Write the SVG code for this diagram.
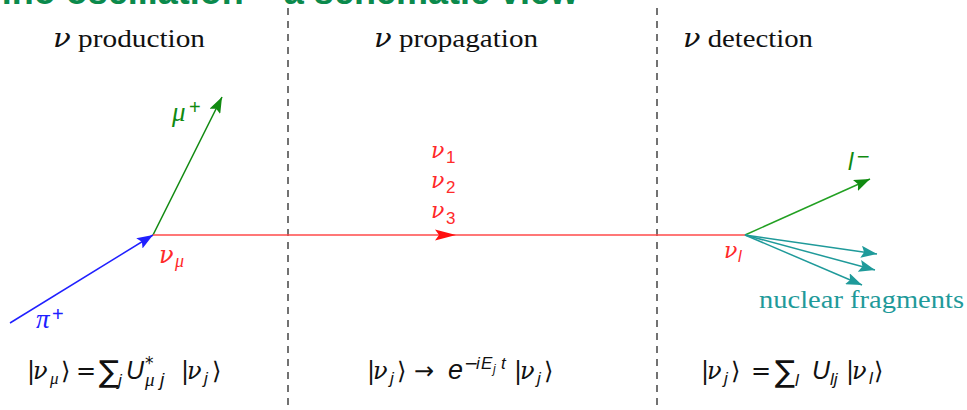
<svg xmlns="http://www.w3.org/2000/svg" width="967" height="410" viewBox="0 0 967 410">
<style>
.title{font-family:"Liberation Sans",Arial,sans-serif;font-size:36px;fill:#0b8a4c;font-weight:bold}
.hdr{font-family:"Liberation Serif","Times New Roman",serif;font-size:26px;fill:#111}
.nu{font-family:"DejaVu Serif","Liberation Serif",serif;font-style:italic}
.m{font-family:"Liberation Serif","Times New Roman",serif;font-style:italic}
.s{font-family:"Liberation Sans",Arial,sans-serif;font-style:italic}
.su{font-family:"Liberation Sans",Arial,sans-serif;font-style:normal}
.up{font-family:"DejaVu Sans","Liberation Sans",sans-serif;font-style:normal}
.eq{font-size:24px;fill:#111}
.sb{font-size:17px}
.div{stroke:#444;stroke-width:1.5;stroke-dasharray:7,6;fill:none}
.red{fill:#ff2a2a}.blue{fill:#2020ff}.green{fill:#108a10}.teal{fill:#1f9a9a}
</style>
<defs>
<marker id="ab" markerUnits="userSpaceOnUse" markerWidth="18" markerHeight="12" refX="16" refY="6" orient="auto"><path d="M0,0 L16,6 L0,12 L3,6 z" fill="#2020ff"/></marker>
<marker id="ag" markerUnits="userSpaceOnUse" markerWidth="18" markerHeight="12" refX="16" refY="6" orient="auto"><path d="M0,0 L16,6 L0,12 L3,6 z" fill="#118a11"/></marker>
<marker id="at" markerUnits="userSpaceOnUse" markerWidth="18" markerHeight="12" refX="16" refY="6" orient="auto"><path d="M0,0 L16,6 L0,12 L3,6 z" fill="#1f9a9a"/></marker>
</defs>
<rect width="967" height="410" fill="#fff"/>
<text class="title" x="578" y="4" text-anchor="end">Neutrino oscillation – a schematic view</text>
<g id="dividers">
<line class="div" x1="288" y1="8" x2="288" y2="410"/>
<line class="div" x1="657" y1="8" x2="657" y2="410"/>
</g>
<g id="headers" class="hdr">
<text x="53" y="47" textLength="152" lengthAdjust="spacingAndGlyphs"><tspan class="nu">ν</tspan> production</text>
<text x="374" y="47" textLength="164" lengthAdjust="spacingAndGlyphs"><tspan class="nu">ν</tspan> propagation</text>
<text x="683" y="47" textLength="130" lengthAdjust="spacingAndGlyphs"><tspan class="nu">ν</tspan> detection</text>
</g>
<g id="connectors" fill="none">
<line x1="10" y1="323" x2="153" y2="235" stroke="#2020ff" stroke-width="1.5" marker-end="url(#ab)"/>
<line x1="153" y1="235" x2="222" y2="97" stroke="#118a11" stroke-width="1.5" marker-end="url(#ag)"/>
<line x1="153" y1="235" x2="745" y2="235" stroke="#ff4a4a" stroke-width="1.5"/>
<path d="M435,229.5 L456,235 L435,240.5 L439,235 z" fill="#ff1010" stroke="none"/>
<line x1="745" y1="235" x2="870" y2="179" stroke="#22a022" stroke-width="1.5" marker-end="url(#ag)"/>
<line x1="745" y1="235" x2="877" y2="254" stroke="#1f9a9a" stroke-width="1.5" marker-end="url(#at)"/>
<line x1="745" y1="235" x2="875" y2="270" stroke="#1f9a9a" stroke-width="1.5" marker-end="url(#at)"/>
<line x1="745" y1="235" x2="862" y2="285" stroke="#1f9a9a" stroke-width="1.5" marker-end="url(#at)"/>
</g>
<g id="production">
<text class="blue" x="36" y="328"><tspan class="m" font-size="27">π</tspan><tspan class="su" font-size="20" x="52" y="321">+</tspan></text>
<text class="green" x="172" y="121"><tspan class="m" font-size="27">μ</tspan><tspan class="su" font-size="20" x="189" y="114">+</tspan></text>
<text class="red" x="159" y="263"><tspan class="nu" font-size="24">ν</tspan><tspan class="m" font-size="18" x="175" y="267">μ</tspan></text>
</g>
<g id="propagation" class="red">
<text x="431" y="158"><tspan class="nu" font-size="22">ν</tspan><tspan class="su" font-size="17" x="446" y="163">1</tspan></text>
<text x="431" y="188"><tspan class="nu" font-size="22">ν</tspan><tspan class="su" font-size="17" x="446" y="193">2</tspan></text>
<text x="431" y="218"><tspan class="nu" font-size="22">ν</tspan><tspan class="su" font-size="17" x="446" y="224">3</tspan></text>
</g>
<g id="detection">
<text class="green" x="848" y="170"><tspan class="s" font-size="24">l</tspan><tspan class="up" font-size="17" x="856" y="162">−</tspan></text>
<text class="red" x="724" y="258"><tspan class="nu" font-size="22">ν</tspan><tspan class="s" font-size="16" x="738" y="262">l</tspan></text>
<text class="hdr teal" x="759" y="308" textLength="205" lengthAdjust="spacingAndGlyphs">nuclear fragments</text>
</g>
<g id="equations" class="eq">
<text y="379"><tspan class="up" x="27">|</tspan><tspan class="nu" x="33">ν</tspan><tspan class="m sb" x="50" y="384">μ</tspan><tspan class="up" x="61" y="379">⟩</tspan><tspan class="up" x="76">=</tspan><tspan class="up" font-size="30" x="99" y="382">∑</tspan><tspan class="s sb" x="118" y="386">j</tspan><tspan class="s" font-size="25" x="126" y="379">U</tspan><tspan class="up sb" x="145" y="369">*</tspan><tspan class="m" font-size="19" x="145" y="386">μ</tspan><tspan class="s" font-size="19" x="160" y="386">j</tspan><tspan class="up" x="181" y="379">|</tspan><tspan class="nu" x="187">ν</tspan><tspan class="s sb" x="204" y="384">j</tspan><tspan class="up" x="212" y="379">⟩</tspan></text>
<text y="379"><tspan class="up" x="367">|</tspan><tspan class="nu" x="373">ν</tspan><tspan class="s sb" x="390" y="384">j</tspan><tspan class="up" x="397" y="379">⟩</tspan><tspan class="up" x="414">→</tspan><tspan class="s" font-size="27" x="448">e</tspan><tspan class="up sb" x="464" y="369">−</tspan><tspan class="s sb" x="476">i</tspan><tspan class="s sb" x="481">E</tspan><tspan class="s" font-size="12" x="493" y="373">j</tspan><tspan class="s sb" x="501" y="369">t</tspan><tspan class="up" x="514" y="379">|</tspan><tspan class="nu" x="520">ν</tspan><tspan class="s sb" x="537" y="384">j</tspan><tspan class="up" x="544" y="379">⟩</tspan></text>
<text y="379"><tspan class="up" x="701">|</tspan><tspan class="nu" x="707">ν</tspan><tspan class="s sb" x="724" y="384">j</tspan><tspan class="up" x="731" y="379">⟩</tspan><tspan class="up" x="751">=</tspan><tspan class="up" font-size="30" x="775" y="382">∑</tspan><tspan class="s sb" x="795" y="386">l</tspan><tspan class="s" font-size="25" x="812" y="379">U</tspan><tspan class="s sb" x="830" y="385">lj</tspan><tspan class="up" x="846" y="379">|</tspan><tspan class="nu" x="852">ν</tspan><tspan class="s sb" x="869" y="384">l</tspan><tspan class="up" x="874" y="379">⟩</tspan></text>
</g>
</svg>
